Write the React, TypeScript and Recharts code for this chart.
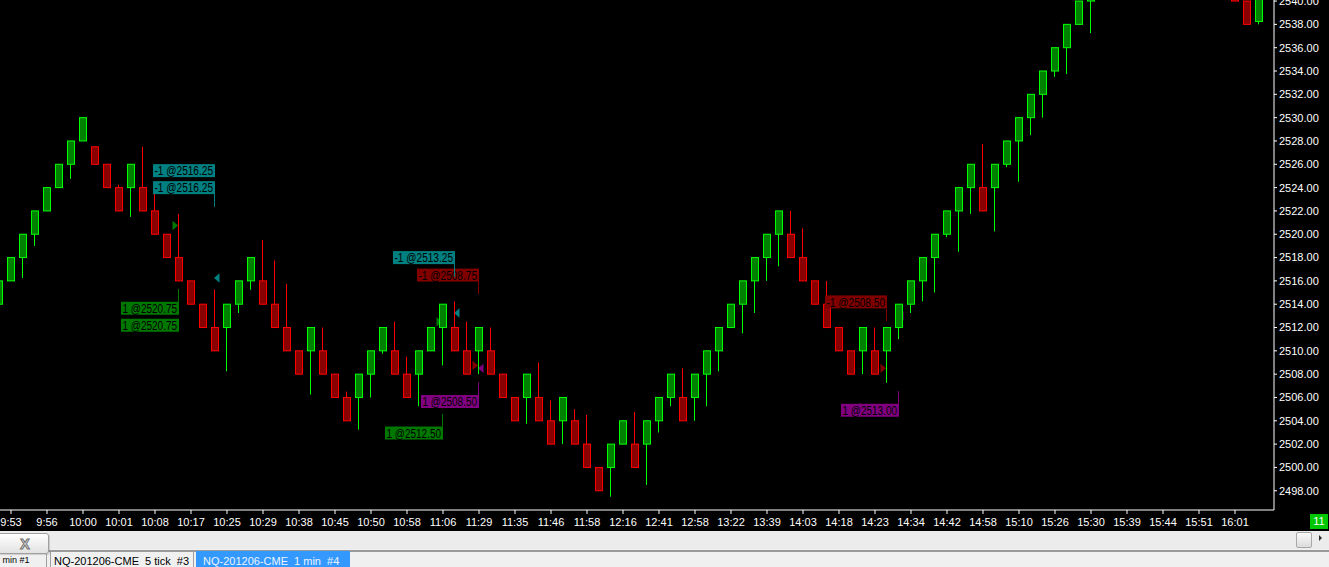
import React from 'react';
import { ComposedChart, Bar, Scatter, XAxis, YAxis } from 'recharts';

const FONT = '"Liberation Sans", Arial, Helvetica, sans-serif';

// time labels (one every 3 bars, starting at bar 0)
const timeLabels = [
  '9:53', '9:56', '10:00', '10:01', '10:08', '10:17', '10:25', '10:29', '10:38', '10:45',
  '10:50', '10:58', '11:06', '11:29', '11:35', '11:46', '11:58', '12:16', '12:41', '12:58',
  '13:22', '13:39', '14:03', '14:18', '14:23', '14:34', '14:42', '14:58', '15:10', '15:26',
  '15:30', '15:39', '15:44', '15:51', '16:01',
];

// bars from index -1 to 104
const opens = [
  2514, 2516, 2518, 2520, 2522, 2524, 2526, 2528, 2527.5, 2526,
  2524, 2524, 2524, 2522, 2520, 2518, 2516, 2514, 2512, 2512,
  2514, 2516, 2516, 2514, 2512, 2510, 2510, 2510, 2508, 2506,
  2506, 2508, 2510, 2510, 2508, 2508, 2510, 2512, 2512, 2510,
  2510, 2510, 2508, 2506, 2506, 2506, 2504, 2504, 2504, 2502,
  2500, 2500, 2502, 2502, 2502, 2504, 2506, 2506, 2506, 2508,
  2510, 2512, 2514, 2516, 2518, 2520, 2520, 2518, 2516, 2514,
  2512, 2510, 2510, 2510, 2510, 2512, 2514, 2516, 2518, 2520,
  2522, 2524, 2524, 2524, 2526, 2528, 2530, 2532, 2534, 2536,
  2538, 2540, 2542, 2544, 2546, 2548, 2548, 2546, 2546, 2546,
  2544, 2544, 2544, 2542, 2540, 2538.25,
];
const highs = [
  2516, 2518, 2520, 2522, 2524, 2526, 2528, 2530, 2527.5, 2526,
  2524.25, 2526, 2527.5, 2523.5, 2520, 2521.75, 2516, 2514, 2515.25, 2514,
  2516, 2518, 2519.5, 2517.75, 2515.75, 2510, 2512, 2512, 2508, 2506.5,
  2508, 2510, 2512, 2512.5, 2509.5, 2510, 2512, 2514, 2514.25, 2512.5,
  2512, 2512, 2508, 2506, 2508, 2509, 2505.75, 2506, 2505, 2504.5,
  2500, 2502, 2504, 2504.75, 2504, 2506, 2508, 2508.5, 2508, 2510,
  2512, 2514, 2516, 2518, 2520, 2522, 2522, 2520.5, 2516, 2516,
  2512, 2510, 2512, 2512, 2512, 2514, 2516, 2518, 2520, 2522,
  2524, 2526, 2527.75, 2526, 2528, 2530, 2532, 2534, 2536, 2538,
  2540, 2542, 2544, 2546, 2548, 2550, 2549, 2546, 2548, 2547.5,
  2544, 2546, 2545, 2543, 2540, 2540.5,
];
const lows = [
  2514, 2516, 2516.25, 2519, 2522, 2524, 2524.75, 2528, 2526, 2524,
  2522, 2521.5, 2522, 2520, 2518, 2516, 2514, 2512, 2510, 2508.25,
  2513.25, 2515.25, 2514, 2512, 2510, 2508, 2506.25, 2508, 2506, 2504,
  2503.25, 2506, 2509.75, 2508, 2506, 2505.25, 2510, 2508.75, 2510, 2508,
  2508, 2508, 2506, 2504, 2503.75, 2504, 2502, 2502, 2502, 2500,
  2498, 2497.5, 2502, 2500, 2498.5, 2503, 2505.25, 2504, 2504, 2505.25,
  2508.25, 2512, 2511.5, 2513.25, 2516, 2517.25, 2518, 2516, 2514, 2512,
  2510, 2508, 2508, 2508, 2507.25, 2511, 2513.25, 2514.25, 2515, 2519.75,
  2518.5, 2521.75, 2522, 2520.25, 2525.75, 2524.5, 2528.5, 2530, 2533.5, 2533.75,
  2538, 2537.25, 2541, 2543.5, 2545, 2547.5, 2546, 2544, 2545, 2544,
  2542, 2543, 2542, 2540, 2538, 2538,
];
const closes = [
  2516, 2518, 2520, 2522, 2524, 2526, 2528, 2530, 2526, 2524,
  2522, 2526, 2522, 2520, 2518, 2516, 2514, 2512, 2510, 2514,
  2516, 2518, 2514, 2512, 2510, 2508, 2512, 2508, 2506, 2504,
  2508, 2510, 2512, 2508, 2506, 2510, 2512, 2514, 2510, 2508,
  2512, 2508, 2506, 2504, 2508, 2504, 2502, 2506, 2502, 2500,
  2498, 2502, 2504, 2500, 2504, 2506, 2508, 2504, 2508, 2510,
  2512, 2514, 2516, 2518, 2520, 2522, 2518, 2516, 2514, 2512,
  2510, 2508, 2512, 2508, 2512, 2514, 2516, 2518, 2520, 2522,
  2524, 2526, 2522, 2526, 2528, 2530, 2532, 2534, 2536, 2538,
  2540, 2542, 2544, 2546, 2548, 2550, 2546, 2544, 2548, 2544,
  2542, 2546, 2542, 2540, 2538, 2540.5,
];

const priceTicks = [
  2498, 2500, 2502, 2504, 2506, 2508, 2510, 2512, 2514, 2516, 2518,
  2520, 2522, 2524, 2526, 2528, 2530, 2532, 2534, 2536, 2538, 2540,
];

// executions
const tradeBars = [14, 17, 37, 36, 39, 39, 73, 74];
const tradeQty = [1, -1, -1, 1, -1, 1, -1, 1];
const tradePrices = [2520.75, 2516.25, 2513.25, 2512.5, 2508.75, 2508.5, 2508.5, 2513.0];
const tradeKinds = ['longEntry', 'longExit', 'longExit', 'longEntry', 'shortEntry', 'shortExit', 'shortEntry', 'shortExit'];
const tradeLabelCounts = [2, 2, 1, 1, 1, 1, 1, 1];
const tradeLabelAnchors = [2515.3, 2522.35, 2516.35, 2504.6, 2514.85, 2507.3, 2512.55, 2506.55];
const tradeLabelSides = ['below', 'above', 'above', 'below', 'above', 'below', 'above', 'below'];

const KIND_COLORS: Record<string, string> = {
  longEntry: '#007800',
  longExit: '#008080',
  shortEntry: '#800000',
  shortExit: '#800080',
};

const candles = opens.map((o, i) => ({
  k: i - 1,
  o,
  h: highs[i],
  l: lows[i],
  c: closes[i],
  range: [lows[i], highs[i]],
}));

const markers = tradeBars.map((k, i) => ({ k, y: tradePrices[i], kind: tradeKinds[i] }));
const labels = tradeBars.map((k, i) => ({
  k,
  y: tradeLabelAnchors[i],
  side: tradeLabelSides[i],
  count: tradeLabelCounts[i],
  kind: tradeKinds[i],
  text: `${tradeQty[i]} @${tradePrices[i].toFixed(2)}`,
}));

const CHART_W = 1329;
const CHART_H = 531;
const PLOT_W = 1274;
const BAR_STEP = 12;
const FIRST_X = 11;
const X_MIN = -FIRST_X / BAR_STEP;
const X_MAX = X_MIN + PLOT_W / BAR_STEP;
const Y_MIN = 2496.35;
const Y_MAX = 2540.09;

const LINE_LEN = 12.7;
const BOX_H = 13;
const BOX_GAP = 4;

function Candle(props: any) {
  const { x, y, width, height } = props;
  const p = props.payload ?? props;
  if (x == null || y == null || p == null || p.h === p.l) return null;
  const top = Math.min(y, y + height);
  const hgt = Math.abs(height);
  const ppp = hgt / (p.h - p.l);
  const toY = (v: number) => top + (p.h - v) * ppp;
  const cx = Math.round(x + width / 2);
  const up = p.c >= p.o;
  const stroke = up ? '#00ff00' : '#ff0000';
  const fill = up ? '#008000' : '#880000';
  const bt = toY(Math.max(p.o, p.c));
  const bb = toY(Math.min(p.o, p.c));
  return (
    <g>
      <line x1={cx - 0.5} x2={cx - 0.5} y1={toY(p.h)} y2={toY(p.l)} stroke={stroke} strokeWidth={1} />
      <rect x={cx - 3.5} y={bt} width={7} height={Math.max(bb - bt, 1)} fill={fill} stroke={stroke} strokeWidth={1} />
    </g>
  );
}

function Marker(props: any) {
  const { cx, cy } = props;
  const p = props.payload ?? props;
  if (cx == null || cy == null) return null;
  const color = KIND_COLORS[p.kind];
  const entry = String(p.kind).endsWith('Entry');
  const tip = Math.round(cx) - 1;
  const pts = entry
    ? `${tip},${cy} ${tip - 5.5},${cy - 4.7} ${tip - 5.5},${cy + 4.7}`
    : `${tip},${cy} ${tip + 5.5},${cy - 4.7} ${tip + 5.5},${cy + 4.7}`;
  return <polygon points={pts} fill={color} />;
}

function boxTops(p: any, cy: number) {
  const tops: number[] = [];
  for (let j = 0; j < p.count; j++) {
    tops.push(
      p.side === 'below'
        ? cy + LINE_LEN + j * (BOX_H + BOX_GAP)
        : cy - LINE_LEN - BOX_H - j * (BOX_H + BOX_GAP)
    );
  }
  return tops;
}

function LabelBoxes(props: any) {
  const { cx, cy } = props;
  const p = props.payload ?? props;
  if (cx == null || cy == null) return null;
  const color = KIND_COLORS[p.kind];
  const right = Math.round(cx);
  const w = p.text.length * 4 + 18;
  return (
    <g>
      {boxTops(p, cy).map((top, j) => (
        <g key={j}>
          <rect x={right - w} y={top} width={w} height={BOX_H} fill={color} />
          <text
            x={right - w + 1.5}
            y={top + 11.2}
            fontSize={12.5}
            fontFamily={FONT}
            fill="#000"
            textLength={w - 3.5}
            lengthAdjust="spacingAndGlyphs"
          >
            {p.text}
          </text>
        </g>
      ))}
    </g>
  );
}

function LabelLines(props: any) {
  const { cx, cy } = props;
  const p = props.payload ?? props;
  if (cx == null || cy == null) return null;
  const color = KIND_COLORS[p.kind];
  const lx = Math.round(cx) - 0.5;
  const y2 = p.side === 'below' ? cy + LINE_LEN : cy - LINE_LEN;
  return <line x1={lx} x2={lx} y1={cy} y2={y2} stroke={color} strokeWidth={1} />;
}

export default function App() {
  const xTicks = timeLabels.map((_, j) => j * 3);
  return (
    <div
      style={{
        position: 'absolute',
        left: 0,
        top: 0,
        width: 1329,
        height: 567,
        background: '#f0f0f0',
        overflow: 'hidden',
        fontFamily: FONT,
      }}
    >
      <div style={{ position: 'absolute', left: 0, top: 0, width: CHART_W, height: CHART_H, background: '#000' }}>
        <ComposedChart
          width={CHART_W}
          height={CHART_H}
          data={candles}
          margin={{ top: 0, right: 0, bottom: 0, left: 0 }}
        >
          <XAxis
            type="number"
            dataKey="k"
            domain={[X_MIN, X_MAX]}
            allowDataOverflow
            ticks={xTicks}
            interval={0}
            tickFormatter={(v: number) => timeLabels[Math.round(v / 3)] ?? ''}
            height={21}
            tickSize={4}
            tickMargin={4}
            axisLine={{ stroke: '#ffffff' }}
            tickLine={{ stroke: '#ffffff' }}
            tick={{ fill: '#ffffff', fontSize: 11, fontFamily: FONT }}
          />
          <YAxis
            type="number"
            dataKey="y"
            orientation="right"
            domain={[Y_MIN, Y_MAX]}
            allowDataOverflow
            ticks={priceTicks}
            interval={0}
            tickFormatter={(v: number) => v.toFixed(2)}
            width={CHART_W - PLOT_W}
            tickSize={3}
            tickMargin={2}
            axisLine={{ stroke: '#ffffff' }}
            tickLine={{ stroke: '#ffffff' }}
            tick={{ fill: '#ffffff', fontSize: 11, fontFamily: FONT }}
          />
          <Scatter data={markers} shape={Marker} isAnimationActive={false} zIndex={250} />
          <Bar dataKey="range" barSize={8} shape={Candle} isAnimationActive={false} />
          <Scatter data={labels} shape={LabelBoxes} isAnimationActive={false} />
          <Scatter data={labels} shape={LabelLines} isAnimationActive={false} />
        </ComposedChart>
        <div
          style={{
            position: 'absolute',
            left: 1310,
            top: 514,
            width: 18,
            height: 15,
            background: '#00c800',
            color: '#ffffff',
            fontSize: 11,
            lineHeight: '15px',
            textAlign: 'center',
          }}
        >
          11
        </div>
      </div>

      {/* horizontal scrollbar */}
      <div style={{ position: 'absolute', left: 0, top: 531, width: 1329, height: 18, background: '#ececec' }} />
      <div
        style={{
          position: 'absolute',
          left: 1296,
          top: 532,
          width: 14,
          height: 14,
          background: 'linear-gradient(#fafafa, #dcdcdc)',
          border: '1px solid #a8a8a8',
          borderRadius: 2,
        }}
      />
      <div
        style={{
          position: 'absolute',
          left: 1319,
          top: 535,
          width: 0,
          height: 0,
          borderTop: '3px solid transparent',
          borderBottom: '3px solid transparent',
          borderLeft: '3px solid #303030',
        }}
      />
      {/* separator */}
      <div style={{ position: 'absolute', left: 0, top: 550, width: 1329, height: 2, background: '#9a9a9a' }} />

      {/* tabs */}
      <div
        style={{
          position: 'absolute',
          left: 0,
          top: 554,
          width: 46,
          height: 13,
          background: '#f0f0f0',
          borderRight: '1px solid #a0a0a0',
          fontSize: 9,
          color: '#000',
          overflow: 'hidden',
          whiteSpace: 'nowrap',
          lineHeight: '13px',
        }}
      >
        &nbsp;min #1
      </div>
      <div
        style={{
          position: 'absolute',
          left: 50,
          top: 552,
          width: 144,
          height: 15,
          background: '#f0f0f0',
          borderLeft: '1px solid #a0a0a0',
          borderRight: '1px solid #a0a0a0',
          fontSize: 11,
          color: '#000',
          whiteSpace: 'pre',
          lineHeight: '19px',
          paddingLeft: 3,
          boxSizing: 'border-box',
        }}
      >
        {'NQ-201206-CME  5 tick  #3'}
      </div>
      <div
        style={{
          position: 'absolute',
          left: 196,
          top: 551,
          width: 154,
          height: 16,
          background: '#3399ff',
          fontSize: 11,
          color: '#eaf4ff',
          whiteSpace: 'pre',
          lineHeight: '21px',
          paddingLeft: 7,
          boxSizing: 'border-box',
        }}
      >
        {'NQ-201206-CME  1 min  #4'}
      </div>
      {/* close button */}
      <div
        style={{
          position: 'absolute',
          left: -3,
          top: 533,
          width: 52,
          height: 21,
          background: 'linear-gradient(#ffffff, #e2e2e2)',
          border: '1px solid #a0a0a0',
          borderRadius: 3,
          boxShadow: '1px 1px 1px rgba(0,0,0,0.15)',
          textAlign: 'center',
          fontSize: 14,
          lineHeight: '21px',
          color: '#e8e8e8',
          fontWeight: 'bold',
          WebkitTextStroke: '1px #707070',
          paddingLeft: 4,
          boxSizing: 'border-box',
        }}
      >
        X
      </div>
    </div>
  );
}
